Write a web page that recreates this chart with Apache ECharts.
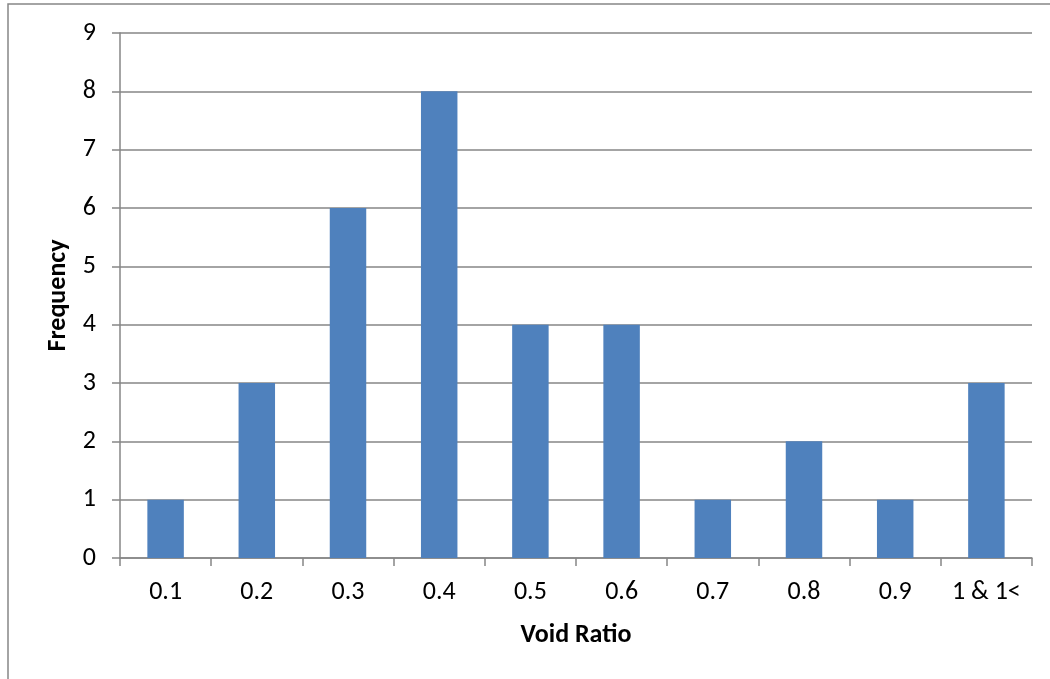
<!DOCTYPE html>
<html>
<head>
<meta charset="utf-8">
<script src="https://cdn.jsdelivr.net/npm/echarts@6/dist/echarts.min.js"></script>
<style>
html,body{margin:0;padding:0;background:#fff;}
#chart{width:1050px;height:679px;}
</style>
</head>
<body>
<div id="chart"></div>
<script>
var voidRatios = ['0.1','0.2','0.3','0.4','0.5','0.6','0.7','0.8','0.9','1 & 1<'];
var frequency = [1,3,6,8,4,4,1,2,1,3];

var chart = echarts.init(document.getElementById('chart'));
var font = 'Carlito, "Open Sans", "Noto Sans", sans-serif';
chart.setOption({
	animation:false,
	backgroundColor:'#fff',
	graphic:[{
		type:'rect',
		shape:{x:8,y:4,width:1100,height:700},
		style:{fill:'none',stroke:'#868686',lineWidth:1.5},
		silent:true
	}],
	grid:{left:120,right:18,top:33,bottom:121},
	xAxis:{
		type:'category',
		data:voidRatios,
		name:'Void Ratio',
		nameLocation:'middle',
		nameGap:64,
		nameTextStyle:{fontFamily:font,fontSize:26,fontWeight:'bold',color:'#000'},
		axisLine:{lineStyle:{color:'#868686',width:1.5}},
		axisTick:{show:true,length:8,lineStyle:{color:'#868686',width:1.5}},
		axisLabel:{fontFamily:font,fontSize:26,color:'#000',margin:21}
	},
	yAxis:{
		type:'value',
		min:0,max:9,interval:1,
		name:'Frequency',
		nameLocation:'middle',
		nameGap:47,
		nameTextStyle:{fontFamily:font,fontSize:26,fontWeight:'bold',color:'#000'},
		axisLine:{show:true,lineStyle:{color:'#868686',width:1.5}},
		axisTick:{show:true,length:8,lineStyle:{color:'#868686',width:1.5}},
		axisLabel:{fontFamily:font,fontSize:26,color:'#000',margin:24},
		splitLine:{lineStyle:{color:'#868686',width:1.5}}
	},
	series:[{
		type:'bar',
		data:frequency,
		barWidth:'40%',
		itemStyle:{color:'#4F81BD'}
	}]
});
</script>
</body>
</html>
